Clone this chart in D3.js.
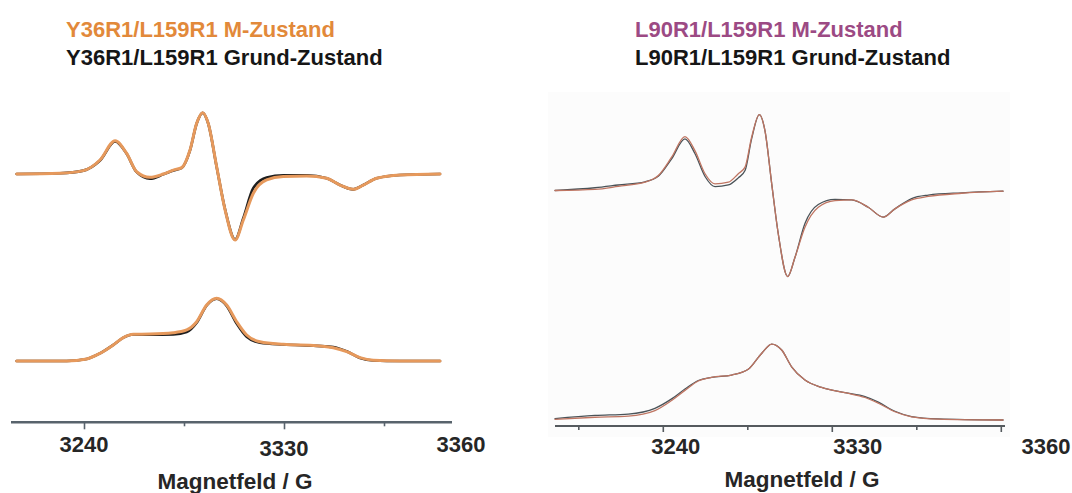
<!DOCTYPE html>
<html>
<head>
<meta charset="utf-8">
<script src="https://cdn.jsdelivr.net/npm/d3@7"></script>
<style>
  html, body { margin: 0; padding: 0; background: #ffffff; }
  svg { display: block; }
  text { font-family: "Liberation Sans", Arial, sans-serif; font-weight: bold; }
</style>
</head>
<body>
<svg id="chart" width="1072" height="493"></svg>
<script>
// ---- Y36R1/L159R1 : magnetic field (G) and intensity (a.u.) ----
const y36DerivField = [3209.7,3229.2,3239.7,3247.2,3254.0,3259.2,3263.7,3269.7,3275.7,3280.2,3284.0,3287.7,3290.7,3293.4,3295.9,3299.7,3303.5,3308.0,3311.7,3316.2,3322.2,3329.7,3340.2,3349.2,3355.2,3361.2,3365.7,3371.7,3382.2,3400.2];
const y36DerivM      = [0,0.04,0.18,0.75,1.78,1.10,0.12,-0.18,0,0.21,0.34,1.28,2.71,3.28,2.71,0.39,-1.93,-3.53,-2.46,-1.03,-0.32,-0.14,-0.11,-0.23,-0.59,-0.82,-0.59,-0.23,-0.05,0];
const y36DerivGround = [0,0.04,0.18,0.72,1.74,1.08,0.10,-0.25,-0.02,0.19,0.33,1.26,2.70,3.27,2.70,0.38,-1.90,-3.50,-2.35,-0.75,-0.19,-0.07,-0.07,-0.23,-0.59,-0.82,-0.59,-0.23,-0.05,0];

const y36AbsField  = [3209.7,3232.2,3241.2,3247.2,3253.2,3257.7,3262.2,3269.7,3280.2,3286.2,3290.7,3295.2,3299.7,3304.2,3308.7,3313.2,3319.2,3329.7,3344.7,3352.2,3358.2,3364.2,3370.2,3382.2,3400.2];
const y36AbsM      = [0,0,0.11,0.41,0.86,1.25,1.43,1.44,1.51,1.66,2.10,2.99,3.35,2.99,2.10,1.39,1.03,0.89,0.82,0.71,0.50,0.18,0.04,0,0];
const y36AbsGround = [0,0,0.11,0.41,0.86,1.25,1.42,1.40,1.42,1.55,2.05,2.97,3.33,2.95,2.00,1.30,0.98,0.88,0.81,0.75,0.52,0.16,0.03,0,0];

// ---- L90R1/L159R1 ----
const l90DerivField  = [3182.6,3203.9,3216.3,3230.5,3237.6,3244.7,3251.8,3257.1,3262.5,3267.8,3274.9,3280.2,3283.8,3287.3,3291.4,3294.4,3298.0,3301.5,3306.5,3310.4,3315.7,3322.8,3331.7,3340.6,3349.4,3357.4,3363.6,3372.5,3381.4,3399.2,3421.2];
const l90DerivM      = [0,0.05,0.18,0.36,0.65,1.45,2.35,1.74,0.73,0.29,0.36,0.73,1.02,2.32,3.31,2.61,0.29,-1.89,-3.75,-2.91,-1.60,-0.73,-0.44,-0.41,-0.73,-1.16,-0.80,-0.41,-0.26,-0.12,-0.03];
const l90DerivGround = [0,0.12,0.24,0.38,0.62,1.38,2.25,1.61,0.61,0.17,0.24,0.55,0.87,2.25,3.31,2.61,0.29,-1.89,-3.75,-2.91,-1.44,-0.61,-0.39,-0.41,-0.73,-1.16,-0.80,-0.35,-0.20,-0.10,-0.03];

const l90AbsField  = [3182.6,3203.9,3221.6,3235.8,3244.7,3251.8,3258.9,3266.0,3276.7,3285.5,3292.7,3298.0,3303.3,3308.6,3315.7,3324.6,3337.0,3347.7,3354.8,3363.6,3372.5,3386.7,3421.2];
const l90AbsM      = [0.03,0.12,0.17,0.41,0.85,1.29,1.70,1.86,1.96,2.21,2.91,3.31,3.05,2.32,1.74,1.42,1.19,0.98,0.73,0.36,0.14,0.04,0];
const l90AbsGround = [0.06,0.20,0.26,0.51,0.92,1.35,1.72,1.86,1.96,2.21,2.91,3.31,3.05,2.32,1.74,1.42,1.19,1.02,0.78,0.38,0.15,0.05,0];

// vertical offset of the first-derivative trace above the absorption trace (a.u.)
const derivOffset = 10;

// axis ticks and labels
const majorTicks = [3240, 3330];
const minorTicksL = [3285, 3375];
const minorTicksR = [3195, 3285, 3375];
const endTickR = [3420];
const tickLabels = ["3240", "3330"];
const endLabel = "3360";
const axisTitle = "Magnetfeld / G";

const titlesL = ["Y36R1/L159R1 M-Zustand", "Y36R1/L159R1 Grund-Zustand"];
const titlesR = ["L90R1/L159R1 M-Zustand", "L90R1/L159R1 Grund-Zustand"];

const svg = d3.select("#chart");

// faint backdrop of the right panel
svg.append("rect").attr("x", 548).attr("y", 92).attr("width", 462).attr("height", 345)
  .attr("fill", "#fcfcfc");

function zipSeries(f, v, off) { return f.map((x, i) => [x, v[i] + off]); }

function drawPanel(cfg) {
  const { x, y, axisFrom, axisTo, axisY } = cfg;
  const line = d3.line().x(d => x(d[0])).y(d => y(d[1])).curve(d3.curveMonotoneX);
  const g = svg.append("g");

  const traces = [
    [cfg.dField, cfg.dGround, derivOffset, cfg.groundColor, cfg.groundWidth],
    [cfg.aField, cfg.aGround, 0, cfg.groundColor, cfg.groundWidth],
    [cfg.dField, cfg.dM, derivOffset, cfg.mColor, cfg.mWidth],
    [cfg.aField, cfg.aM, 0, cfg.mColor, cfg.mWidth]
  ];
  traces.forEach(([f, v, off, col, w]) => {
    g.append("path").datum(zipSeries(f, v, off))
      .attr("fill", "none").attr("stroke", col).attr("stroke-width", w)
      .attr("stroke-linejoin", "round").attr("stroke-linecap", "round")
      .attr("d", line);
  });

  // axis spanning the full baseline
  const xa = x.copy().domain([x.invert(axisFrom), x.invert(axisTo)]).range([axisFrom, axisTo]);
  const ax = svg.append("g").attr("transform", `translate(0,${axisY})`);
  ax.append("line").attr("x1", axisFrom).attr("x2", axisTo)
    .attr("stroke", cfg.axisColor).attr("stroke-width", cfg.axisWidth);
  const major = ax.append("g").call(d3.axisBottom(xa).tickValues(cfg.major).tickSize(cfg.majorLen).tickSizeOuter(0).tickFormat(""));
  const minor = ax.append("g").call(d3.axisBottom(xa).tickValues(cfg.minor).tickSize(cfg.minorLen).tickSizeOuter(0).tickFormat(""));
  [major, minor].forEach(s => {
    s.select(".domain").remove();
    s.selectAll(".tick line").attr("stroke", cfg.axisColor).attr("stroke-width", 1.6)
      .attr("y1", -cfg.tickUp);
  });

  tickLabels.forEach((t, i) => {
    svg.append("text").attr("x", x(majorTicks[i]) + cfg.labelDx[i]).attr("y", cfg.labelY[i])
      .attr("text-anchor", "middle").attr("font-size", cfg.labelSize).attr("fill", "#262626").text(t);
  });
  svg.append("text").attr("x", axisTo + cfg.endDx).attr("y", cfg.labelY[2])
    .attr("text-anchor", "middle").attr("font-size", cfg.labelSize).attr("fill", "#262626").text(endLabel);

  svg.append("text").attr("x", cfg.titleX).attr("y", cfg.titleY)
    .attr("text-anchor", "middle").attr("font-size", cfg.titleSize).attr("fill", "#262626").text(axisTitle);

  cfg.legend.forEach((t, i) => {
    svg.append("text").attr("x", cfg.legendX).attr("y", [37, 64.5][i])
      .attr("font-size", 22).attr("fill", i === 0 ? cfg.legendColor : "#161616").text(t);
  });
}

drawPanel({
  x: d3.scaleLinear().domain([3240, 3330]).range([84, 284]),
  y: d3.scaleLinear().domain([0, derivOffset]).range([361, 174]),
  dField: y36DerivField, dM: y36DerivM, dGround: y36DerivGround,
  aField: y36AbsField, aM: y36AbsM, aGround: y36AbsGround,
  mColor: "#e6995c", mWidth: 3, groundColor: "#1e1e1e", groundWidth: 2.6,
  axisFrom: 11, axisTo: 452, axisY: 422.3, axisColor: "#58636c", axisWidth: 2.6,
  major: majorTicks, minor: minorTicksL, majorLen: 7, minorLen: 4, tickUp: 0,
  labelDx: [0, 0], labelY: [452, 456, 452], endDx: 9, labelSize: 22,
  titleX: 235, titleY: 489, titleSize: 22.5,
  legend: titlesL, legendX: 66, legendColor: "#e2893a"
});

drawPanel({
  x: d3.scaleLinear().domain([3240, 3330]).range([662.8, 831.8]),
  y: d3.scaleLinear().domain([0, derivOffset]).range([420, 190.5]),
  dField: l90DerivField, dM: l90DerivM, dGround: l90DerivGround,
  aField: l90AbsField, aM: l90AbsM, aGround: l90AbsGround,
  mColor: "#bf7562", mWidth: 1.3, groundColor: "#4a5358", groundWidth: 1.3,
  axisFrom: 555, axisTo: 1005, axisY: 426, axisColor: "#555a5e", axisWidth: 2,
  major: majorTicks.concat(endTickR), minor: minorTicksR, majorLen: 6, minorLen: 4, tickUp: 1,
  labelDx: [13, 26], labelY: [454, 454, 454], endDx: 41, labelSize: 22,
  titleX: 802, titleY: 487, titleSize: 22.5,
  legend: titlesR, legendX: 635, legendColor: "#9c4a84"
});
</script>
</body>
</html>
